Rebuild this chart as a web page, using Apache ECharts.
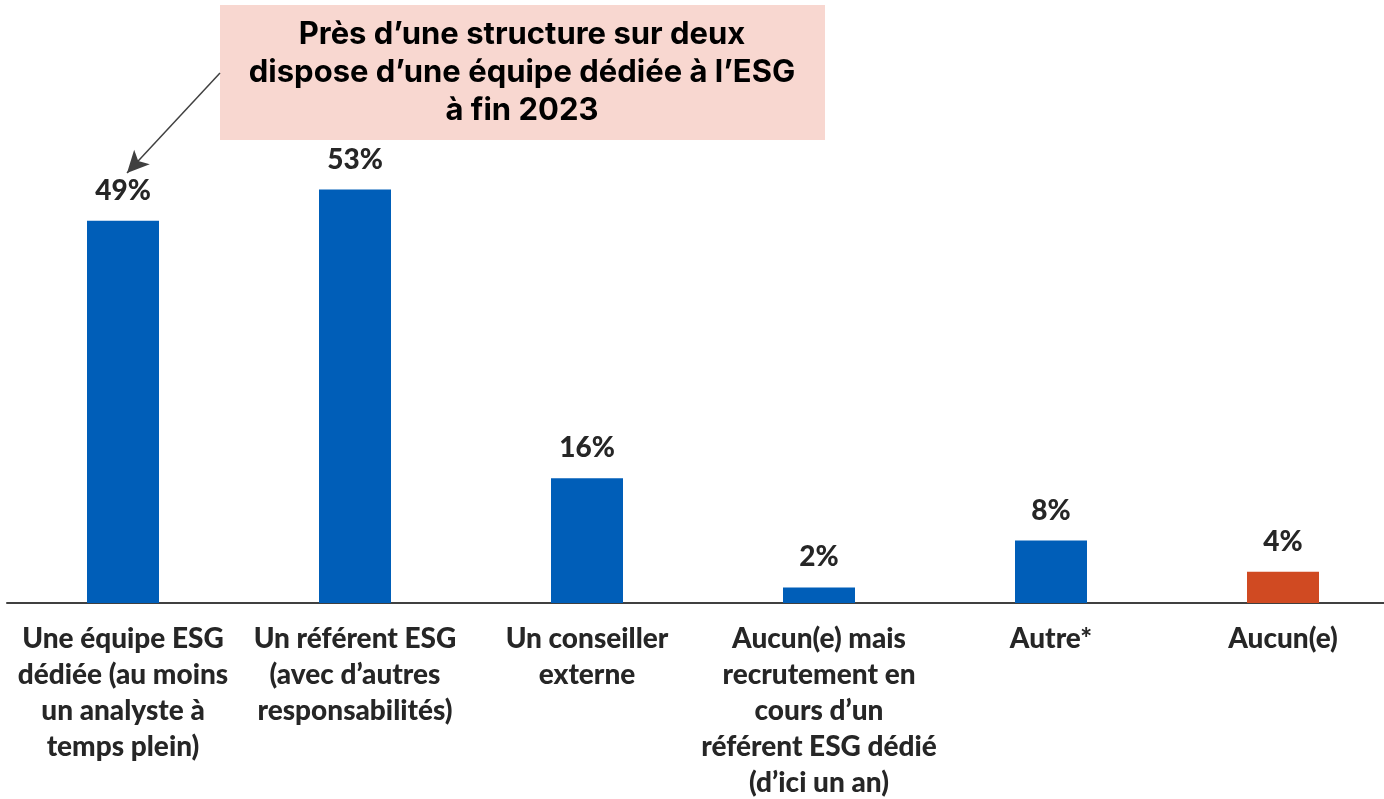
<!DOCTYPE html>
<html>
<head>
<meta charset="utf-8">
<script src="https://cdn.jsdelivr.net/npm/echarts@6/dist/echarts.min.js"></script>
<style>
  html, body { margin: 0; padding: 0; background: #fff; }
  #chart { width: 1384px; height: 799px; }
</style>
</head>
<body>
<div id="chart"></div>
<script>
var categories = [
    'Une équipe ESG\ndédiée (au moins\nun analyste à\ntemps plein)',
    'Un référent ESG\n(avec d\u2019autres\nresponsabilités)',
    'Un conseiller\nexterne',
    'Aucun(e) mais\nrecrutement en\ncours d\u2019un\nréférent ESG dédié\n(d\u2019ici un an)',
    'Autre*',
    'Aucun(e)'
];
var values = [49, 53, 16, 2, 8, 4];
var barColors = ['#005EB8', '#005EB8', '#005EB8', '#005EB8', '#005EB8', '#D04A22'];
var calloutText = 'Près d\u2019une structure sur deux\ndispose d\u2019une équipe dédiée à l\u2019ESG\nà fin 2023';

var chart = echarts.init(document.getElementById('chart'));

var option = {
    animation: false,
    grid: {
        left: 7,
        right: -15,
        top: 135,
        bottom: 196,
        containLabel: false,
        outerBoundsMode: 'none'
    },
    xAxis: {
        type: 'category',
        data: categories,
        axisLine: { lineStyle: { color: '#404040', width: 2 } },
        axisTick: { show: false },
        axisLabel: {
            interval: 0,
            margin: 18,
            color: '#262626',
            fontFamily: 'Lato',
            fontWeight: 900,
            fontSize: 28,
            lineHeight: 36
        }
    },
    yAxis: {
        type: 'value',
        min: 0,
        max: 60,
        show: false,
        splitLine: { show: false }
    },
    series: [
        {
            type: 'bar',
            barWidth: 72,
            data: values.map(function (v, i) {
                return { value: v, itemStyle: { color: barColors[i] } };
            }),
            label: {
                show: true,
                position: 'top',
                distance: 16,
                formatter: '{c}%',
                color: '#262626',
                fontFamily: 'Lato',
                fontWeight: 900,
                fontSize: 28
            },
            markLine: {
                silent: true,
                symbol: ['none', 'arrow'],
                symbolSize: [16, 22],
                lineStyle: { color: '#404040', width: 1.5, type: 'solid' },
                label: { show: false },
                data: [
                    [{ x: 220, y: 73 }, { x: 127, y: 173 }]
                ]
            }
        }
    ],
    graphic: [
        {
            type: 'rect',
            left: 220,
            top: 5,
            shape: { width: 605, height: 135 },
            style: { fill: '#F8D7D0' }
        },
        {
            type: 'text',
            x: 522,
            y: 73,
            style: {
                text: calloutText,
                fill: '#000',
                font: '700 31px Inter',
                lineHeight: 38,
                align: 'center',
                verticalAlign: 'middle'
            }
        }
    ]
};

chart.setOption(option);

window.addEventListener('resize', function () {
    chart.resize();
});
</script>
</body>
</html>
